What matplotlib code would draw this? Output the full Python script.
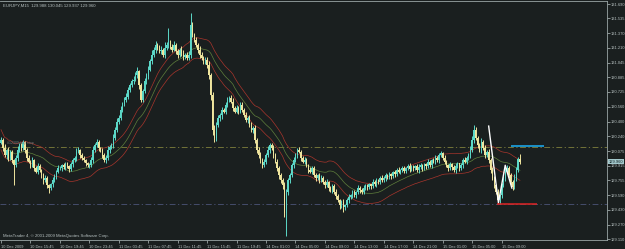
import numpy as np
import pandas as pd
import matplotlib
matplotlib.use("Agg")
import matplotlib.pyplot as plt
from matplotlib.transforms import blended_transform_factory

plt.rcParams['font.family'] = ['Liberation Sans', 'DejaVu Sans']

# --- data (EURJPY M15, 10-15 Dec 2009) ---
symbol = "EURJPY,M15"
first_open = 130.17
closes = [
    130.20, 130.11, 130.03, 130.09, 130.00, 130.07, 129.98, 129.92, 130.00, 130.09, 130.14, 130.11, 130.18, 130.09, 130.00, 129.96,
    129.92, 129.98, 129.89, 129.85, 129.91, 129.87, 129.81, 129.76, 129.78, 129.70, 129.67, 129.71, 129.76, 129.80, 129.85, 129.89,
    129.89, 129.92, 129.90, 129.94, 129.91, 129.88, 129.93, 129.98, 130.00, 130.07, 130.09, 130.03, 130.00, 129.98, 129.94, 129.92,
    129.92, 129.98, 130.09, 130.14, 130.18, 130.11, 130.09, 130.03, 129.98, 130.00, 130.09, 130.12, 130.14, 130.22, 130.31, 130.40,
    130.44, 130.53, 130.59, 130.64, 130.67, 130.75, 130.80, 130.84, 130.86, 130.91, 130.95, 130.80, 130.64, 130.73, 130.84, 130.90,
    130.97, 131.06, 131.13, 131.19, 131.24, 131.21, 131.17, 131.19, 131.13, 131.21, 131.24, 131.28, 131.22, 131.19, 131.24, 131.17,
    131.13, 131.19, 131.15, 131.11, 131.13, 131.10, 131.13, 131.46, 131.35, 131.30, 131.24, 131.19, 131.13, 131.10, 131.06, 131.08,
    131.02, 130.91, 130.69, 130.31, 130.22, 130.36, 130.44, 130.47, 130.53, 130.51, 130.58, 130.64, 130.66, 130.62, 130.55, 130.51,
    130.55, 130.51, 130.58, 130.53, 130.47, 130.42, 130.44, 130.36, 130.31, 130.33, 130.20, 130.09, 130.03, 129.98, 129.92, 129.96,
    130.03, 130.09, 130.14, 130.11, 130.03, 129.96, 129.89, 129.81, 129.76, 129.70, 129.40, 129.63, 129.76, 129.81, 129.92, 129.98,
    130.03, 130.09, 130.07, 130.00, 129.96, 129.98, 129.92, 129.87, 129.85, 129.89, 129.81, 129.78, 129.81, 129.76, 129.78, 129.74,
    129.70, 129.74, 129.67, 129.65, 129.69, 129.63, 129.58, 129.54, 129.48, 129.52, 129.46, 129.48, 129.54, 129.57, 129.59, 129.63,
    129.59, 129.63, 129.67, 129.65, 129.63, 129.67, 129.70, 129.68, 129.71, 129.69, 129.74, 129.71, 129.76, 129.74, 129.78, 129.76,
    129.78, 129.81, 129.79, 129.82, 129.80, 129.85, 129.82, 129.87, 129.85, 129.87, 129.89, 129.86, 129.89, 129.91, 129.88, 129.90,
    129.89, 129.91, 129.87, 129.90, 129.92, 129.89, 129.93, 129.91, 129.96, 129.92, 129.98, 129.96, 130.00, 129.98, 130.03, 130.05,
    130.00, 129.96, 129.92, 129.89, 129.93, 129.90, 129.87, 129.91, 129.94, 129.89, 129.92, 129.98, 129.96, 130.00, 130.03, 130.09,
    130.20, 130.31, 130.22, 130.14, 130.09, 130.18, 130.11, 130.03, 130.07, 129.98, 129.87, 129.78, 129.70, 129.63, 129.54, 129.59,
    129.70, 129.78, 129.85, 129.89, 129.81, 129.74, 129.68, 129.78, 129.87, 129.988, 129.960,
]
# wick lengths beyond the body, in pips (0.01)
wick_hi = [
    3, 2, 4, 1, 3, 2, 2, 1, 3, 4, 2, 3, 2, 1, 2, 3,
    2, 3, 1, 2, 3, 2, 1, 2, 3, 2, 1, 2, 3, 2, 2, 3,
    2, 1, 3, 2, 2, 1, 3, 2, 2, 4, 3, 1, 2, 2, 1, 2,
    2, 3, 4, 2, 3, 2, 1, 2, 2, 3, 4, 2, 3, 4, 3, 4,
    3, 4, 2, 3, 4, 3, 2, 3, 4, 3, 5, 2, 2, 3, 4, 3,
    4, 3, 5, 3, 4, 2, 3, 4, 2, 6, 3, 15, 2, 3, 4, 2,
    3, 2, 4, 3, 2, 3, 4, 13, 3, 2, 3, 2, 4, 3, 2, 3,
    3, 4, 2, 3, 5, 4, 3, 2, 3, 2, 4, 3, 2, 3, 4, 2,
    3, 2, 4, 3, 2, 3, 2, 3, 4, 2, 3, 2, 3, 4, 2, 3,
    2, 4, 3, 2, 3, 2, 3, 2, 3, 2, 4, 3, 2, 3, 2, 3,
    3, 2, 3, 2, 2, 3, 2, 1, 3, 2, 2, 3, 1, 2, 3, 2,
    2, 3, 1, 2, 3, 2, 3, 2, 1, 2, 3, 2, 2, 3, 1, 2,
    2, 1, 3, 2, 2, 3, 1, 2, 2, 1, 3, 2, 2, 1, 2, 3,
    2, 2, 1, 3, 2, 1, 2, 2, 3, 1, 2, 2, 1, 2, 3, 2,
    2, 1, 2, 3, 2, 1, 2, 2, 3, 2, 1, 2, 3, 2, 2, 3,
    2, 3, 2, 1, 3, 2, 2, 3, 2, 1, 3, 2, 3, 2, 3, 4,
    4, 5, 3, 2, 3, 4, 2, 3, 2, 3, 2, 3, 2, 2, 3, 2,
    3, 2, 4, 3, 2, 3, 2, 4, 3, 2, 5.7,
]
wick_lo = [
    2, 3, 2, 4, 3, 2, 3, 22, 2, 3, 2, 3, 2, 4, 3, 2,
    3, 2, 3, 2, 3, 2, 3, 4, 2, 3, 5, 2, 3, 2, 3, 2,
    2, 3, 2, 3, 2, 3, 2, 3, 2, 3, 2, 3, 2, 2, 3, 2,
    3, 2, 3, 2, 2, 3, 2, 3, 2, 3, 2, 3, 2, 3, 2, 3,
    3, 2, 3, 2, 3, 2, 3, 2, 3, 2, 3, 4, 2, 3, 2, 3,
    3, 2, 3, 2, 4, 3, 2, 3, 2, 3, 2, 3, 2, 3, 2, 3,
    3, 2, 3, 4, 2, 3, 2, 3, 2, 3, 2, 4, 3, 2, 3, 3,
    3, 4, 5, 6, 4, 3, 2, 3, 4, 2, 3, 2, 3, 2, 3, 2,
    2, 3, 2, 3, 2, 3, 4, 2, 3, 4, 3, 4, 3, 4, 3, 2,
    3, 2, 3, 2, 3, 2, 3, 4, 3, 4, 5, 26, 4, 3, 2, 3,
    2, 3, 2, 3, 2, 3, 2, 3, 2, 3, 2, 3, 2, 3, 2, 3,
    3, 2, 3, 2, 3, 2, 3, 2, 4, 3, 5, 3, 2, 3, 2, 3,
    2, 3, 2, 3, 2, 3, 2, 3, 2, 3, 2, 2, 3, 2, 3, 2,
    2, 3, 2, 2, 3, 2, 3, 2, 2, 3, 2, 3, 2, 2, 3, 2,
    3, 2, 2, 3, 2, 3, 2, 3, 2, 2, 3, 2, 3, 2, 3, 2,
    2, 3, 2, 3, 2, 3, 2, 3, 2, 3, 2, 3, 2, 3, 2, 3,
    2, 3, 2, 3, 2, 3, 2, 3, 2, 3, 3, 2, 3, 3, 3, 4,
    3, 2, 3, 2, 3, 4, 3, 2, 3, 2, 2.3,
]

price_ticks = [131.690, 131.535, 131.370, 131.210, 131.045, 130.885, 130.725, 130.560, 130.400,
               130.240, 130.075, 129.915, 129.755, 129.590, 129.430, 129.270, 129.110]
time_labels = ["10 Dec 2009", "10 Dec 15:45", "10 Dec 19:45", "10 Dec 23:45", "11 Dec 03:45",
               "11 Dec 07:45", "11 Dec 11:45", "11 Dec 15:45", "11 Dec 19:45", "14 Dec 01:00",
               "14 Dec 05:00", "14 Dec 09:00", "14 Dec 13:00", "14 Dec 17:00", "14 Dec 21:00",
               "15 Dec 01:00", "15 Dec 05:00", "15 Dec 09:00"]
label_step = 16

# envelopes indicator
ma_period = 24
env_dev = 0.085  # percent

# chart objects
buy_stop = 130.12
lower_level = 129.495
w_bars = [265, 270.3, 274, 277.6]
w_prices = [130.35, 129.51, 129.92, 129.67]
blue_bars = [277, 295]
blue_price = 130.135
red_bars = [269.5, 291]
red_price = 129.49

bg = "#1a1f1f"
fg = "#b7c1c1"
up_col = "#5cd8c8"
dn_col = "#efe59e"

c = np.array(closes)
o = np.r_[first_open, c[:-1]]
hi = np.maximum(o, c) + np.array(wick_hi) * 0.01
lo = np.minimum(o, c) - np.array(wick_lo) * 0.01
x = np.arange(len(c))
cols = np.where(c >= o, up_col, dn_col)

ma = pd.Series(c).rolling(ma_period, min_periods=1).mean()
upper = ma * (1 + env_dev / 100)
lower = ma * (1 - env_dev / 100)

fig = plt.figure(figsize=(6.25, 2.49), dpi=100, facecolor=bg)
ax = fig.add_axes([0, 9 / 249, 607 / 625, 239 / 249], facecolor=bg)

ax.plot(x, upper, color="#a8352c", lw=0.5, zorder=1)
ax.plot(x, lower, color="#a8352c", lw=0.5, zorder=1)
ax.plot(x, ma, color="#5f7f3c", lw=0.5, zorder=1)

ax.axhline(buy_stop, color="#80803c", lw=0.6, ls=(0, (7, 3, 1.5, 3)), zorder=0.5)
ax.axhline(lower_level, color="#4c5478", lw=0.6, ls=(0, (7, 3, 1.5, 3)), zorder=0.5)
ax.text(3, buy_stop + 0.02, "#12309 buy stop", fontsize=2.6, color="#6f7878", va="bottom")

ax.vlines(x, lo, hi, colors=cols, lw=0.7, zorder=2)
ax.bar(x, np.maximum(np.abs(c - o), 0.005), bottom=np.minimum(o, c), width=0.75,
       color=cols, lw=0, zorder=2)

ax.plot(w_bars, w_prices, color="white", lw=1.0, zorder=3)
ax.plot(blue_bars, [blue_price] * 2, color="#1c9ad6", lw=1.3, zorder=3, solid_capstyle="butt")
ax.plot(red_bars, [red_price] * 2, color="#e02424", lw=1.1, zorder=3, solid_capstyle="butt")

ax.set_xlim(-0.55, 329.3)
ax.set_ylim(129.100, 131.723)

ax.yaxis.tick_right()
ax.set_yticks(price_ticks)
ax.set_yticklabels([f"{p:.3f}" for p in price_ticks])
ax.tick_params(axis="y", direction="out", length=2, width=0.5, color=fg, labelcolor=fg,
               labelsize=2.9, pad=1)
ax.set_xticks(x[::label_step])
ax.set_xticklabels(time_labels, ha="left")
ax.tick_params(axis="x", direction="out", length=2.5, width=0.5, color=fg, labelcolor=fg,
               labelsize=2.9, pad=1)

for side in ["top", "bottom", "right"]:
    ax.spines[side].set_color("#9aa6a6")
    ax.spines[side].set_linewidth(0.6)
ax.spines["left"].set_visible(False)

trans = blended_transform_factory(ax.transAxes, ax.transData)
ax.text(1.003, c[-1], f"{c[-1]:.3f}", transform=trans, fontsize=2.9, va="center", ha="left",
        color="#102020", clip_on=False,
        bbox=dict(boxstyle="square,pad=0.2", fc="#a3c8cc", ec="none"))

ax.text(0.005, 0.988, f"{symbol}  {o[-1]:.3f} {hi[-1]:.3f} {lo[-1]:.3f} {c[-1]:.3f}",
        transform=ax.transAxes, va="top", fontsize=3.1, color=fg)
ax.text(0.005, 0.018, "MetaTrader 4, \u00a9 2001-2009 MetaQuotes Software Corp.",
        transform=ax.transAxes, va="center", fontsize=3.1, color=fg)

fig.savefig("out.png", dpi=100, facecolor=bg)
